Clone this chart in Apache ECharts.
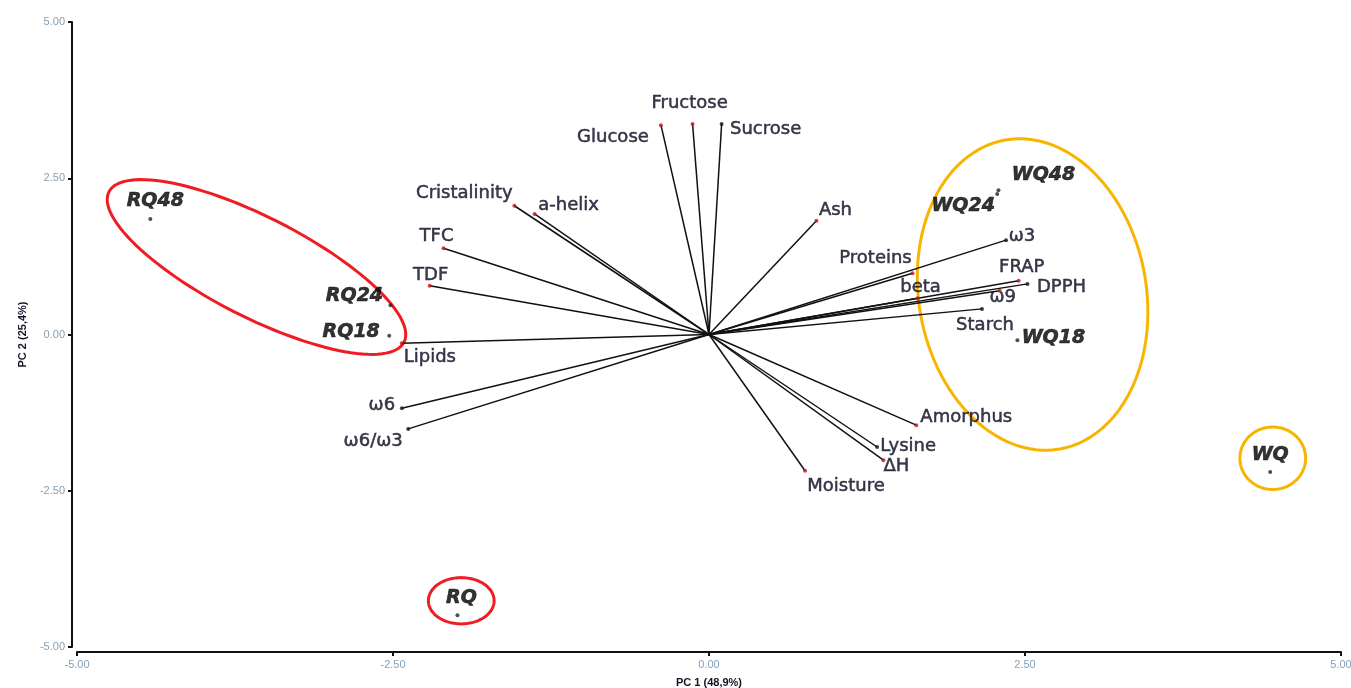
<!DOCTYPE html>
<html>
<head>
<meta charset="utf-8">
<title>PCA biplot</title>
<script src="https://cdn.jsdelivr.net/npm/echarts@6/dist/echarts.min.js"></script>
<style>
  html, body { margin: 0; padding: 0; background: #fff; }
  #chart { width: 1351px; height: 688px; }
</style>
</head>
<body>
<div id="chart"></div>
<script>
// Variable loadings (PC1, PC2)
const loadingNames = ['Fructose', 'Glucose', 'Sucrose', 'Ash', 'Cristalinity', 'a-helix', 'TFC', 'TDF',
  'Lipids', 'ω6', 'ω6/ω3', 'Moisture', 'Amorphus', 'Lysine', 'ΔH', 'Proteins', 'beta', 'ω3',
  'FRAP', 'DPPH', 'ω9', 'Starch'];
const loadingX = [-0.13, -0.38, 0.10, 0.85, -1.54, -1.38, -2.10, -2.21,
  -2.43, -2.43, -2.38, 0.76, 1.64, 1.33, 1.38, 1.61, 1.65, 2.35,
  2.45, 2.52, 2.30, 2.16];
const loadingY = [3.37, 3.35, 3.37, 1.82, 2.06, 1.93, 1.38, 0.78,
  -0.14, -1.18, -1.51, -2.18, -1.45, -1.80, -2.01, 0.98, 0.58, 1.51,
  0.86, 0.81, 0.70, 0.41];

// Sample scores (PC1, PC2)
const scoreNames = ['RQ48', 'RQ24', 'RQ18', 'RQ', 'WQ48', 'WQ24', 'WQ18', 'WQ'];
const scoreX = [-4.42, -2.52, -2.53, -1.99, 2.29, 2.28, 2.44, 4.44];
const scoreY = [1.85, 0.47, -0.02, -4.49, 2.31, 2.25, -0.09, -2.20];

// Group outlines: centre, semi-axes (axis units), tilt in degrees
const groupCenterX = [-3.58, -1.96, 2.56, 4.46];
const groupCenterY = [1.08, -4.26, 0.64, -1.98];
const groupRadiusX = [1.31, 0.26, 0.90, 0.26];
const groupRadiusY = [0.80, 0.37, 2.51, 0.50];
const groupTilt = [27, 0, -10, 0];
const groupColors = ['#ee1d23', '#ee1d23', '#f7b500', '#f7b500'];

// Axis ticks
const axisMin = -5, axisMax = 5, axisStep = 2.5;

// Label placement (pixel offset of label centre from its point)
const loadingLabelOffset = {
  'Fructose': [-3, -21], 'Glucose': [-48, 12], 'Sucrose': [44, 5], 'Ash': [19, -10],
  'Cristalinity': [-50, -12], 'a-helix': [34, -9], 'TFC': [-7, -12], 'TDF': [1, -10],
  'Lipids': [28, 14], 'ω6': [-20, -3], 'ω6/ω3': [-35, 12], 'Moisture': [41, 16],
  'Amorphus': [50, -8], 'Lysine': [31, -1], 'ΔH': [13, 6], 'Proteins': [-37, -15],
  'beta': [3, -11], 'ω3': [16, -4], 'FRAP': [3, -13], 'DPPH': [34, 3],
  'ω9': [3, 7], 'Starch': [3, 16]
};
const scoreLabelOffset = {
  'RQ48': [5, -18], 'RQ24': [-36, -9], 'RQ18': [-38, -4], 'RQ': [4, -17],
  'WQ48': [45, -15], 'WQ24': [-34, 12], 'WQ18': [36, -2], 'WQ': [0, -17]
};
// Tips drawn with a black marker instead of a red one
const blackTips = new Set(['Sucrose', 'Lysine', 'ω6', 'ω6/ω3', 'ω3', 'DPPH', 'Starch']);

const chart = echarts.init(document.getElementById('chart'));

const vectorLines = loadingNames.map((n, i) => ({
  coords: [[0, 0], [loadingX[i], loadingY[i]]]
}));

const vectorTips = loadingNames.map((n, i) => ({
  name: n,
  value: [loadingX[i], loadingY[i]],
  itemStyle: { color: blackTips.has(n) ? '#111' : '#c0141a' },
  label: { offset: loadingLabelOffset[n] }
}));

const scorePoints = scoreNames.map((n, i) => ({
  name: n,
  value: [scoreX[i], scoreY[i]],
  label: { offset: scoreLabelOffset[n] }
}));

const groupData = groupCenterX.map((x, i) => [x, groupCenterY[i], groupRadiusX[i], groupRadiusY[i], groupTilt[i], i]);

function axisCommon(name) {
  return {
    type: 'value',
    min: axisMin,
    max: axisMax,
    interval: axisStep,
    offset: 5,
    name: name,
    nameLocation: 'middle',
    nameTextStyle: { fontFamily: 'Liberation Sans', fontWeight: 'bold', fontSize: 11, color: '#141428' },
    axisLine: { show: true, onZero: false, lineStyle: { color: '#111', width: 2 } },
    axisTick: { show: true, length: 4, lineStyle: { color: '#111', width: 2 } },
    axisLabel: {
      fontFamily: 'Liberation Sans', fontSize: 11, color: '#86a0b8',
      formatter: v => v.toFixed(2)
    },
    splitLine: { show: false }
  };
}

const xAxis = axisCommon('PC 1 (48,9%)');
xAxis.nameGap = 25;
xAxis.axisLabel.margin = 7;
const yAxis = axisCommon('PC 2 (25,4%)');
yAxis.nameGap = 44;
yAxis.axisLabel.margin = 7;

const plainLabel = {
  show: true,
  position: 'inside',
  formatter: p => p.name,
  textShadowBlur: 0
};

chart.setOption({
  animation: false,
  backgroundColor: '#ffffff',
  grid: { left: 77, right: 10, top: 22, bottom: 41, containLabel: false, outerBoundsMode: 'none' },
  xAxis: xAxis,
  yAxis: yAxis,
  series: [
    {
      // group outlines
      type: 'custom',
      coordinateSystem: 'cartesian2d',
      silent: true,
      z: 1,
      data: groupData,
      renderItem: function (params, api) {
        const c = api.coord([api.value(0), api.value(1)]);
        const unit = api.size([1, 1]);
        const a = api.value(2) * unit[0];
        const b = api.value(3) * unit[1];
        const phi = api.value(4) * Math.PI / 180;
        const cosP = Math.cos(phi), sinP = Math.sin(phi);
        const pts = [];
        for (let k = 0; k < 120; k++) {
          const t = k / 120 * Math.PI * 2;
          const ex = a * Math.cos(t), ey = b * Math.sin(t);
          pts.push([c[0] + ex * cosP - ey * sinP, c[1] + ex * sinP + ey * cosP]);
        }
        return {
          type: 'polygon',
          shape: { points: pts },
          style: { fill: 'none', stroke: groupColors[api.value(5)], lineWidth: 3 }
        };
      }
    },
    {
      // loading vectors from the origin
      type: 'lines',
      coordinateSystem: 'cartesian2d',
      silent: true,
      z: 2,
      lineStyle: { color: '#111', width: 1.5, opacity: 1 },
      data: vectorLines
    },
    {
      // vector tips with variable names
      type: 'scatter',
      z: 3,
      symbol: 'circle',
      symbolSize: 4,
      data: vectorTips,
      label: Object.assign({}, plainLabel, {
        fontFamily: 'DejaVu Sans',
        fontSize: 18,
        color: '#0a0a20',
        textBorderColor: '#0a0a20',
        textBorderWidth: 0.5
      })
    },
    {
      // sample scores
      type: 'scatter',
      z: 4,
      symbol: 'circle',
      symbolSize: 4,
      itemStyle: { color: '#1d2b1d' },
      data: scorePoints,
      label: Object.assign({}, plainLabel, {
        fontFamily: 'DejaVu Sans',
        fontWeight: 'bold',
        fontStyle: 'italic',
        fontSize: 19,
        color: '#000000',
        textBorderColor: '#000000',
        textBorderWidth: 0.6
      })
    }
  ]
});
</script>
</body>
</html>
